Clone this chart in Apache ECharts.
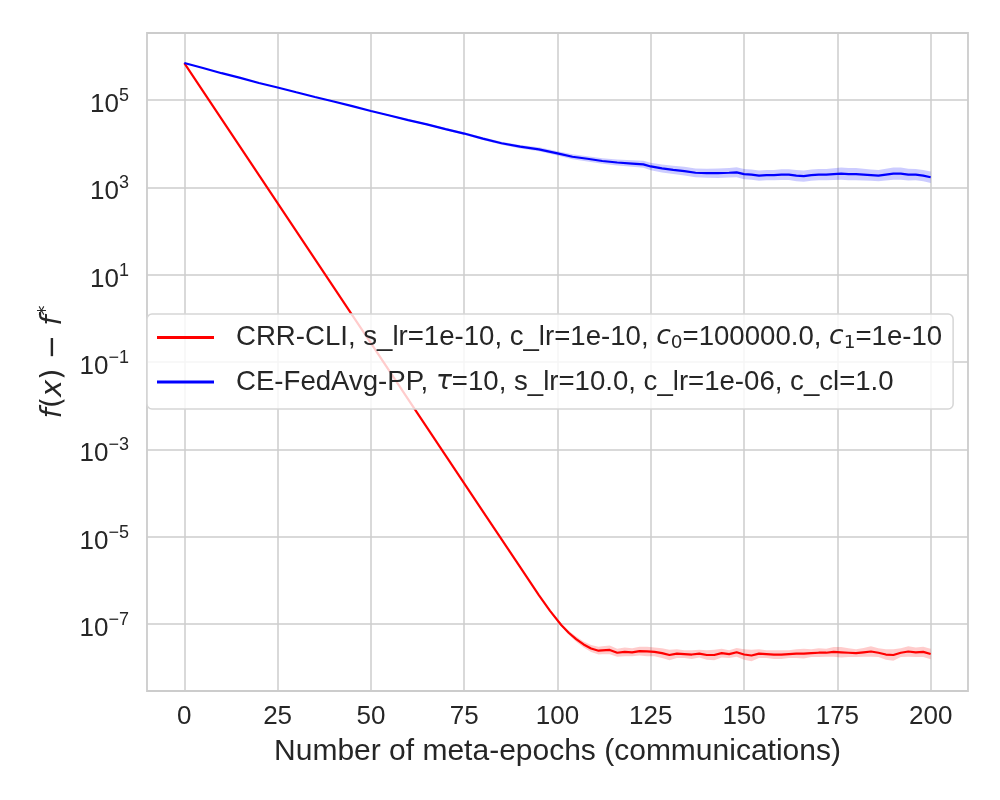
<!DOCTYPE html>
<html>
<head>
<meta charset="utf-8">
<script src="https://cdn.jsdelivr.net/npm/echarts@6/dist/echarts.min.js"></script>
<style>
  html, body { margin: 0; padding: 0; background: #fff; }
  #chart { width: 1000px; height: 800px; }
</style>
</head>
<body>
<div id="chart"></div>
<script>
// 横轴刻度
const xTicks = [0, 25, 50, 75, 100, 125, 150, 175, 200];
// 纵轴刻度 (对数)
const yTicks = [1e5, 1e3, 1e1, 1e-1, 1e-3, 1e-5, 1e-7];

// CRR-CLI 曲线
const redEpochs = [0, 10, 20, 30, 40, 50, 60, 70, 80, 90, 95, 98, 101, 103, 105, 107, 109, 111,
    112, 114, 116, 118, 120, 122, 124, 126, 128, 130, 132, 134, 136, 138, 140, 142, 144, 146, 148,
    150, 152, 154, 156, 158, 160, 162, 164, 166, 168, 170, 172, 174, 176, 178, 180, 182, 184, 186,
    188, 190, 192, 194, 196, 198, 200];
const redValues = [7.0e5, 3.65e4, 1.9e3, 99, 5.2, 0.27, 1.4e-2, 7.3e-4, 3.8e-5, 2.0e-6, 4.6e-7, 2.0e-7,
    9.5e-8, 6.3e-8, 4.5e-8, 3.4e-8, 2.75e-8, 2.45e-8,
    2.5e-8, 2.55e-8, 2.2e-8, 2.3e-8, 2.25e-8, 2.4e-8, 2.35e-8, 2.3e-8, 2.15e-8, 1.95e-8, 2.1e-8, 2.05e-8,
    2.0e-8, 2.1e-8, 1.95e-8, 1.95e-8, 2.15e-8, 2.05e-8, 2.25e-8, 2.0e-8, 1.9e-8, 2.1e-8, 2.05e-8, 2.0e-8,
    2.0e-8, 2.05e-8, 2.1e-8, 2.1e-8, 2.15e-8, 2.2e-8, 2.2e-8, 2.3e-8, 2.25e-8, 2.2e-8, 2.15e-8, 2.25e-8,
    2.35e-8, 2.2e-8, 2.0e-8, 1.95e-8, 2.2e-8, 2.35e-8, 2.25e-8, 2.3e-8, 2.05e-8];
// 阴影带半宽 (单位: 数量级)
const redSpread = [0, 0, 0, 0, 0, 0, 0, 0, 0, 0, 0, 0.015, 0.03, 0.045, 0.06, 0.07, 0.08, 0.09,
    0.09, 0.1, 0.09, 0.1, 0.09, 0.1, 0.11, 0.1, 0.11, 0.12, 0.1, 0.09, 0.1, 0.09, 0.11, 0.12, 0.1,
    0.09, 0.1, 0.12, 0.13, 0.1, 0.09, 0.1, 0.1, 0.09, 0.1, 0.11, 0.09, 0.1, 0.09, 0.11, 0.12, 0.1,
    0.09, 0.1, 0.12, 0.1, 0.12, 0.13, 0.1, 0.12, 0.11, 0.12, 0.12];

// CE-FedAvg-PP 曲线
const blueEpochs = [0, 5, 10, 15, 20, 25, 30, 35, 40, 45, 50, 55, 60, 65, 70, 75, 80, 85, 90, 95,
    100, 104, 108, 112, 116, 120, 123, 125, 128, 131, 134, 137, 140, 143, 146, 148, 150, 152, 154, 156,
    158, 160, 162, 164, 166, 168, 170, 172, 174, 176, 178, 180, 182, 184, 186, 188, 190, 192, 194, 196,
    198, 200];
const blueValues = [7.0e5, 5.4e5, 4.1e5, 3.2e5, 2.45e5, 1.93e5, 1.5e5, 1.17e5, 9.2e4, 7.2e4, 5.6e4,
    4.4e4, 3.45e4, 2.75e4, 2.15e4, 1.7e4, 1.3e4, 1.02e4, 8.5e3, 7.4e3,
    6.0e3, 5.0e3, 4.5e3, 4.0e3, 3.7e3, 3.5e3, 3.35e3, 3.0e3, 2.7e3, 2.5e3, 2.35e3, 2.15e3, 2.1e3, 2.1e3,
    2.15e3, 2.2e3, 2.0e3, 1.95e3, 1.85e3, 1.9e3, 1.9e3, 1.95e3, 1.95e3, 1.85e3, 1.8e3, 1.9e3, 1.95e3,
    1.95e3, 2.0e3, 2.05e3, 2.0e3, 2.0e3, 1.95e3, 1.9e3, 1.85e3, 1.95e3, 2.05e3, 2.05e3, 1.95e3, 1.95e3,
    1.85e3, 1.7e3];
const blueSpread = [0, 0, 0, 0, 0, 0, 0, 0, 0, 0, 0.01, 0.015, 0.02, 0.02, 0.025, 0.03, 0.03, 0.035, 0.04, 0.045,
    0.05, 0.055, 0.06, 0.065, 0.07, 0.075, 0.08, 0.085, 0.09, 0.095, 0.1, 0.1, 0.105, 0.11, 0.11, 0.115,
    0.115, 0.12, 0.12, 0.12, 0.12, 0.125, 0.125, 0.13, 0.13, 0.13, 0.13, 0.13, 0.135, 0.14, 0.14, 0.14, 0.135,
    0.13, 0.13, 0.135, 0.14, 0.14, 0.135, 0.13, 0.13, 0.13];

const textColor = '#262626';
const gridColor = '#cccccc';

// 组装 [x, y] 数据
function pairs(xs, ys) {
    return xs.map(function(x, i) { return [x, ys[i]]; });
}

// 方差阴影带, 用 custom 系列画多边形
function bandSeries(xs, ys, spread, fill) {
    return {
        type: 'custom',
        silent: true,
        z: 1,
        data: [[0, 1]],
        renderItem: function(params, api) {
            const up = [];
            const down = [];
            xs.forEach(function(x, i) {
                const k = Math.pow(10, spread[i]);
                up.push(api.coord([x, ys[i] * k]));
                down.push(api.coord([x, ys[i] / k]));
            });
            return {
                type: 'polygon',
                shape: { points: up.concat(down.reverse()) },
                style: { fill: fill }
            };
        }
    };
}

function lineSeries(name, xs, ys, color) {
    return {
        name: name,
        type: 'line',
        z: 3,
        symbol: 'none',
        showSymbol: false,
        data: pairs(xs, ys),
        itemStyle: { color: color },
        lineStyle: { color: color, width: 2.2 }
    };
}

const legendText = {
    'CRR-CLI': 'CRR-CLI, s_lr=1e-10, c_lr=1e-10, {i|c}{sub|0}=100000.0, {i|c}{sub|1}=1e-10',
    'CE-FedAvg-PP': 'CE-FedAvg-PP, {i|τ}=10, s_lr=10.0, c_lr=1e-06, c_cl=1.0'
};

const chart = echarts.init(document.getElementById('chart'), null, { renderer: 'canvas' });
chart.setOption({
    backgroundColor: '#ffffff',
    animation: false,
    textStyle: { fontFamily: 'Liberation Sans', color: textColor },
    grid: {
        left: 147, right: 32, top: 33, bottom: 109,
        show: true, borderColor: gridColor, borderWidth: 1.8, backgroundColor: 'transparent'
    },
    legend: {
        orient: 'vertical',
        left: 147,
        top: 314,
        padding: [8, 11, 12, 10],
        itemGap: 14,
        itemWidth: 57,
        itemHeight: 3,
        backgroundColor: 'rgba(255,255,255,0.8)',
        borderColor: '#d6d6d6',
        borderWidth: 1.5,
        borderRadius: 5,
        data: [{ name: 'CRR-CLI', icon: 'rect' }, { name: 'CE-FedAvg-PP', icon: 'rect' }],
        formatter: function(name) { return legendText[name]; },
        textStyle: {
            fontFamily: 'Liberation Sans',
            fontSize: 27.6,
            color: textColor,
            lineHeight: 30,
            padding: [0, 0, 0, 17],
            rich: {
                i: { fontFamily: 'DejaVu Sans', fontStyle: 'italic', fontSize: 26.5, color: textColor, lineHeight: 30 },
                sub: { fontFamily: 'DejaVu Sans', fontSize: 18.5, color: textColor, padding: [12, 0, 0, 0], lineHeight: 30 }
            }
        }
    },
    xAxis: {
        type: 'value',
        min: -10,
        max: 210,
        name: 'Number of meta-epochs (communications)',
        nameLocation: 'middle',
        nameGap: 46,
        nameTextStyle: { fontSize: 30, color: textColor, fontFamily: 'Liberation Sans' },
        axisLine: { show: false },
        axisTick: { show: false, customValues: xTicks },
        axisLabel: { customValues: xTicks, fontSize: 26, color: textColor, margin: 13 },
        splitLine: { show: true, lineStyle: { color: gridColor, width: 1.5 } }
    },
    yAxis: {
        type: 'log',
        logBase: 10,
        min: 2.924e-9,
        max: 3.412e6,
        name: '{i|f}{n|(}{i|x}{n|) − }{i|f}{s|*}',
        nameLocation: 'middle',
        nameRotate: 90,
        nameGap: 77,
        nameTextStyle: {
            fontSize: 29, color: textColor, fontFamily: 'DejaVu Sans',
            rich: {
                i: { fontFamily: 'DejaVu Sans', fontStyle: 'italic', fontSize: 29, color: textColor },
                n: { fontFamily: 'DejaVu Sans', fontSize: 29, color: textColor },
                s: { fontFamily: 'DejaVu Sans', fontSize: 20, color: textColor, padding: [0, 0, 14, 0] }
            }
        },
        axisLine: { show: false },
        axisTick: { show: false, customValues: yTicks },
        axisLabel: {
            customValues: yTicks,
            margin: 18,
            formatter: function(v) {
                const e = Math.round(Math.log10(v));
                return '{b|10}{s|' + String(e).replace('-', '−') + '}';
            },
            rich: {
                b: { fontSize: 26, color: textColor, fontFamily: 'Liberation Sans', padding: [10, 0, 0, 0] },
                s: { fontSize: 18, color: textColor, fontFamily: 'Liberation Sans', padding: [0, 0, 8, 0] }
            }
        },
        splitLine: { show: true, lineStyle: { color: gridColor, width: 1.5 } }
    },
    series: [
        bandSeries(redEpochs, redValues, redSpread, 'rgba(255,0,0,0.2)'),
        bandSeries(blueEpochs, blueValues, blueSpread, 'rgba(0,0,255,0.2)'),
        lineSeries('CRR-CLI', redEpochs, redValues, '#ff0000'),
        lineSeries('CE-FedAvg-PP', blueEpochs, blueValues, '#0000ff')
    ]
});
</script>
</body>
</html>
